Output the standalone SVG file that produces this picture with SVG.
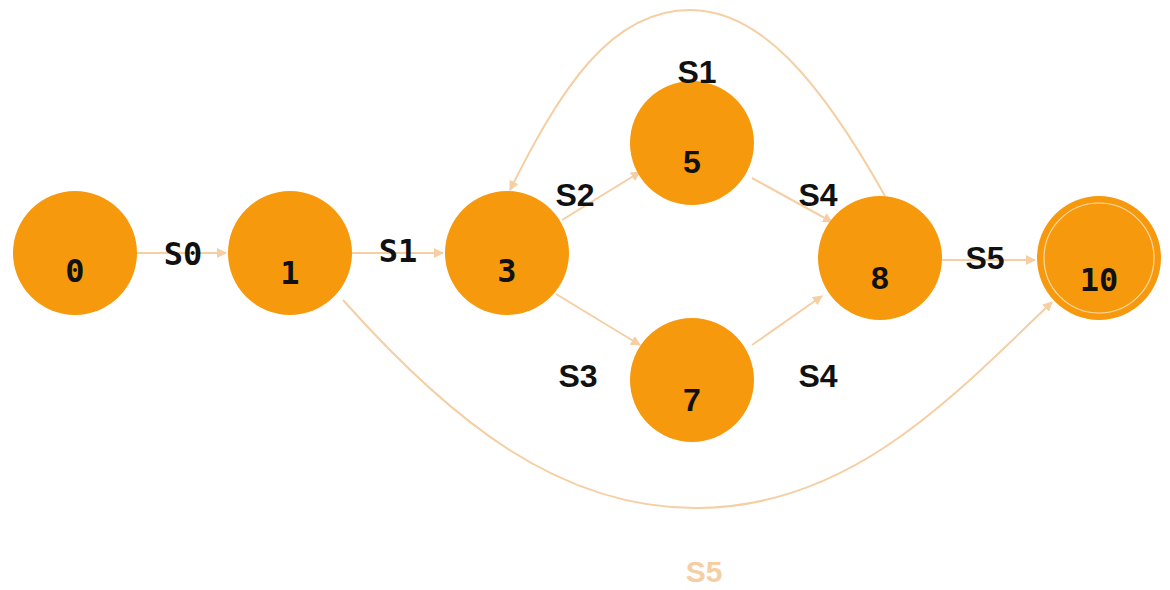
<svg xmlns="http://www.w3.org/2000/svg" width="1170" height="590" viewBox="0 0 1170 590">
  <style>
    .node { fill: #f7990c; }
    .ring { fill: none; stroke: #fbd9a6; stroke-width: 1.2; }
    .mono { font-family: "DejaVu Sans Mono", "Liberation Mono", monospace; font-weight: bold; font-size: 32px; fill: #111; text-anchor: middle; }
    .sans { font-family: "Liberation Sans", Arial, sans-serif; font-weight: bold; font-size: 32px; fill: #111; text-anchor: middle; }
    .edge { fill: none; stroke: #f5cfa3; stroke-width: 2; }
    .faint { fill: #f5cfa3; font-size: 30px; }
  </style>
  <defs>
    <marker id="arrow" viewBox="0 0 10 10" refX="9" refY="5" markerWidth="10" markerHeight="10" orient="auto" markerUnits="userSpaceOnUse">
      <path d="M0,0 L10,5 L0,10 z" fill="#f5cfa3"/>
    </marker>
  </defs>
  <rect width="1170" height="590" fill="#ffffff"/>

  <g id="connectors">
    <line class="edge" x1="137" y1="253" x2="226" y2="253" marker-end="url(#arrow)"/>
    <line class="edge" x1="352" y1="253" x2="443" y2="253" marker-end="url(#arrow)"/>
    <line class="edge" x1="562" y1="220" x2="640" y2="172" marker-end="url(#arrow)"/>
    <line class="edge" x1="752" y1="178" x2="832" y2="222" marker-end="url(#arrow)"/>
    <line class="edge" x1="556" y1="294" x2="640" y2="345" marker-end="url(#arrow)"/>
    <line class="edge" x1="752" y1="345" x2="822" y2="296" marker-end="url(#arrow)"/>
    <line class="edge" x1="942" y1="260" x2="1035" y2="260" marker-end="url(#arrow)"/>
    <path class="edge" d="M885,196 C820,80 760,10 690,10 C610,10 560,90 510,190" marker-end="url(#arrow)"/>
    <path class="edge" d="M343,300 C450,420 560,510 700,508 C850,506 950,400 1052,302" marker-end="url(#arrow)"/>
  </g>

  <g id="node-0">
    <circle class="node" cx="75" cy="253" r="62"/>
    <text class="mono" x="75" y="282">0</text>
  </g>
  <g id="node-1">
    <circle class="node" cx="290" cy="253" r="62"/>
    <text class="mono" x="290" y="284">1</text>
  </g>
  <g id="node-3">
    <circle class="node" cx="507" cy="253" r="62"/>
    <text class="mono" x="507" y="282">3</text>
  </g>
  <g id="node-5">
    <circle class="node" cx="692" cy="143" r="62"/>
    <text class="sans" x="692" y="173">5</text>
  </g>
  <g id="node-7">
    <circle class="node" cx="692" cy="380" r="62"/>
    <text class="sans" x="692" y="411">7</text>
  </g>
  <g id="node-8">
    <circle class="node" cx="880" cy="258" r="62"/>
    <text class="sans" x="880" y="289">8</text>
  </g>
  <g id="node-10">
    <circle class="node" cx="1099" cy="258" r="62"/>
    <circle class="ring" cx="1099" cy="258" r="55"/>
    <text class="mono" x="1099" y="291">10</text>
  </g>

  <g id="edge-labels">
    <text class="mono" x="183" y="265">S0</text>
    <text class="mono" x="398" y="262">S1</text>
    <text class="sans" x="575" y="206">S2</text>
    <text class="sans" x="697" y="83">S1</text>
    <text class="sans" x="818" y="206">S4</text>
    <text class="sans" x="578" y="387">S3</text>
    <text class="sans" x="818" y="387">S4</text>
    <text class="sans" x="985" y="269">S5</text>
    <text class="sans faint" x="704" y="582">S5</text>
  </g>
</svg>
